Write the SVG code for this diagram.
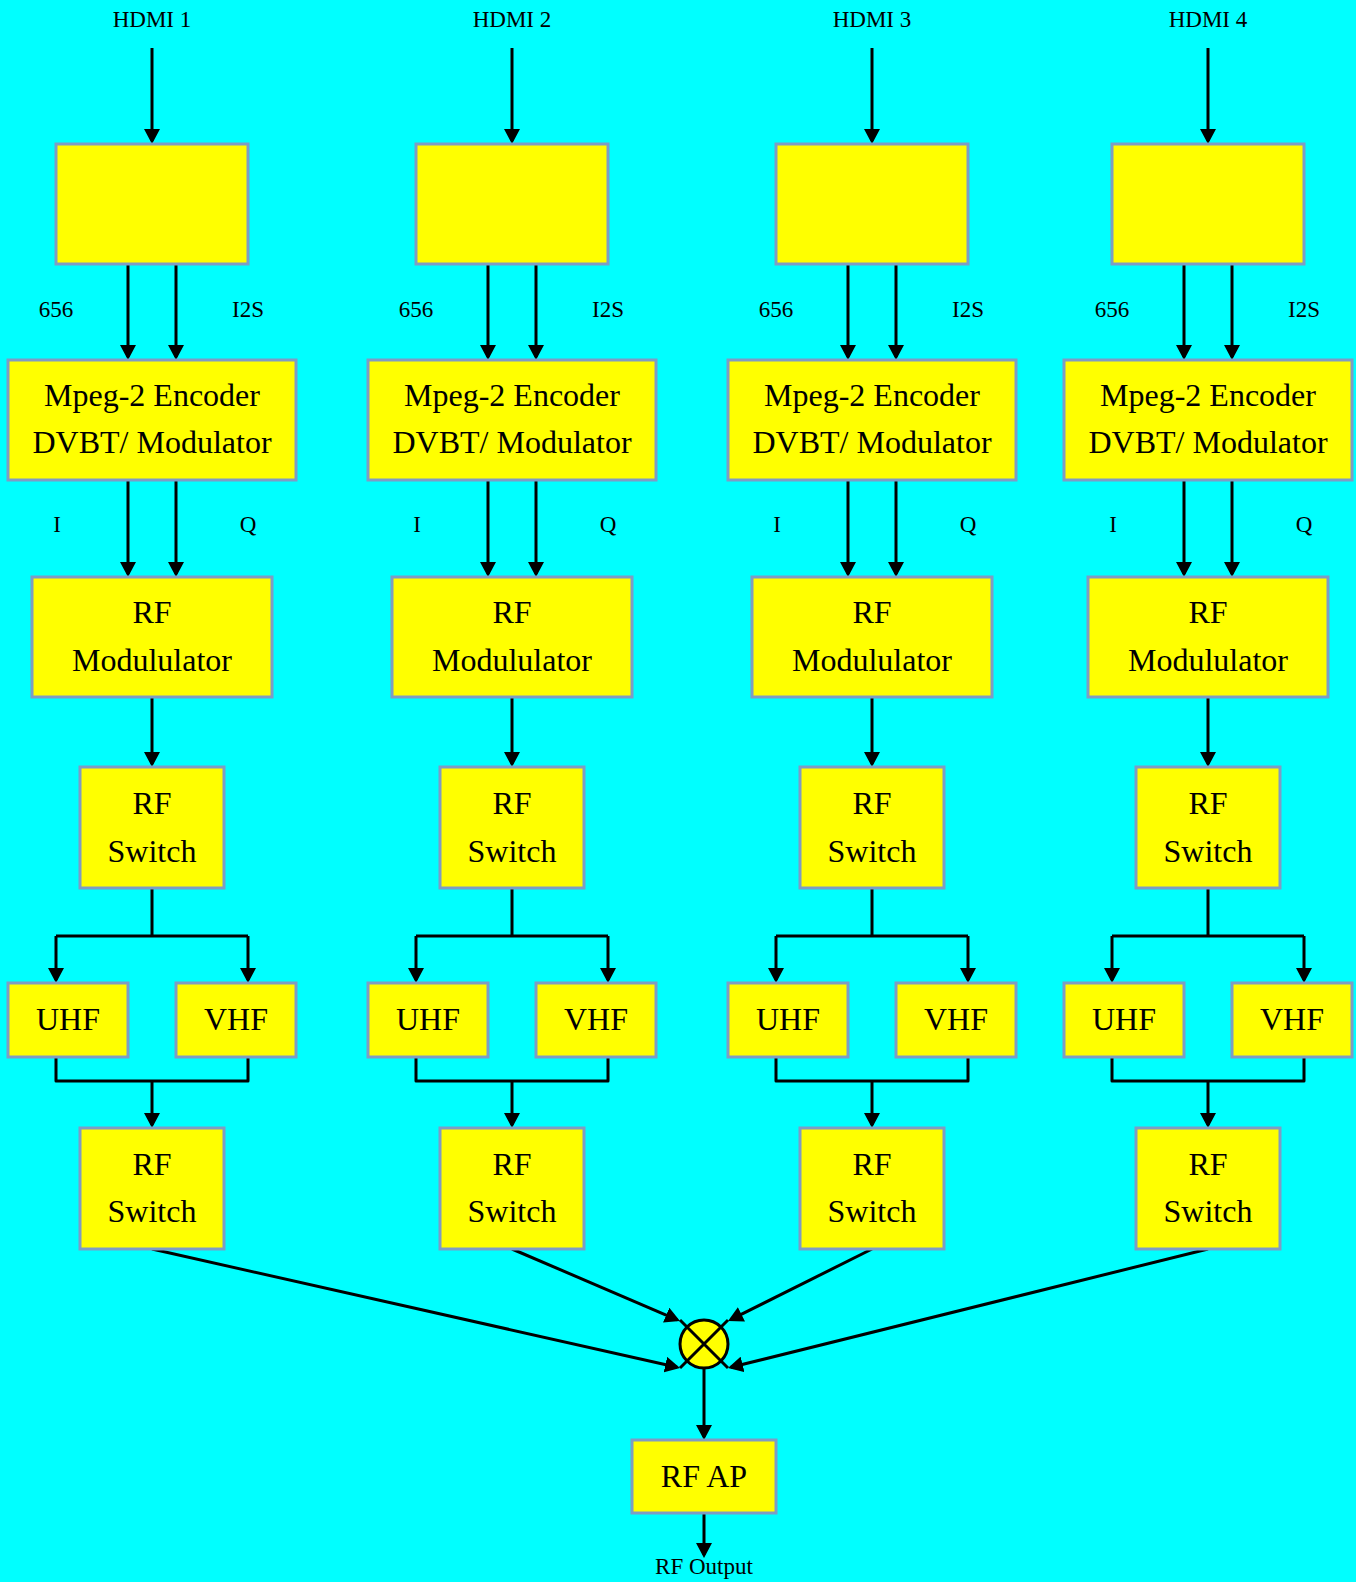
<svg xmlns="http://www.w3.org/2000/svg" width="1356" height="1582" viewBox="0 0 1356 1582">
<style>
.box{fill:#ffff00;stroke:#7f9cc4;stroke-width:3}
.big{font-family:"Liberation Serif","Times New Roman",serif;font-size:32px;fill:#000;text-anchor:middle}
.sm{font-family:"Liberation Serif","Times New Roman",serif;font-size:23px;fill:#000;text-anchor:middle}
.c{fill:none;stroke:#000;stroke-width:3;stroke-linejoin:round}
.a{marker-end:url(#ah)}
</style>
<defs>
<marker id="ah" markerUnits="userSpaceOnUse" markerWidth="16" markerHeight="16" refX="12" refY="8" orient="auto" viewBox="0 0 16 16">
<path d="M0,0 L15,8 L0,16 Z" fill="#000"/>
</marker>
</defs>
<rect width="1356" height="1582" fill="#00ffff"/>

<g id="labels">
<text class="sm" x="152" y="27">HDMI 1</text>
<text class="sm" x="512" y="27">HDMI 2</text>
<text class="sm" x="872" y="27">HDMI 3</text>
<text class="sm" x="1208" y="27">HDMI 4</text>
<text class="sm" x="56" y="317">656</text><text class="sm" x="248" y="317">I2S</text>
<text class="sm" x="416" y="317">656</text><text class="sm" x="608" y="317">I2S</text>
<text class="sm" x="776" y="317">656</text><text class="sm" x="968" y="317">I2S</text>
<text class="sm" x="1112" y="317">656</text><text class="sm" x="1304" y="317">I2S</text>
<text class="sm" x="57" y="532">I</text><text class="sm" x="248" y="532">Q</text>
<text class="sm" x="417" y="532">I</text><text class="sm" x="608" y="532">Q</text>
<text class="sm" x="777" y="532">I</text><text class="sm" x="968" y="532">Q</text>
<text class="sm" x="1113" y="532">I</text><text class="sm" x="1304" y="532">Q</text>
<text class="sm" x="704" y="1574">RF Output</text>
</g>

<g id="connectors">
<!-- column 1 -->
<path class="c a" d="M152,48 V141"/>
<path class="c a" d="M128,264 V357"/>
<path class="c a" d="M176,264 V357"/>
<path class="c a" d="M128,480 V574"/>
<path class="c a" d="M176,480 V574"/>
<path class="c a" d="M152,697 V764"/>
<path class="c" d="M152,888 V936 H56 M152,936 H248"/>
<path class="c a" d="M56,936 V980"/>
<path class="c a" d="M248,936 V980"/>
<path class="c" d="M56,1057 V1081 H248 V1057"/>
<path class="c a" d="M152,1081 V1125"/>
<!-- column 2 -->
<path class="c a" d="M512,48 V141"/>
<path class="c a" d="M488,264 V357"/>
<path class="c a" d="M536,264 V357"/>
<path class="c a" d="M488,480 V574"/>
<path class="c a" d="M536,480 V574"/>
<path class="c a" d="M512,697 V764"/>
<path class="c" d="M512,888 V936 H416 M512,936 H608"/>
<path class="c a" d="M416,936 V980"/>
<path class="c a" d="M608,936 V980"/>
<path class="c" d="M416,1057 V1081 H608 V1057"/>
<path class="c a" d="M512,1081 V1125"/>
<!-- column 3 -->
<path class="c a" d="M872,48 V141"/>
<path class="c a" d="M848,264 V357"/>
<path class="c a" d="M896,264 V357"/>
<path class="c a" d="M848,480 V574"/>
<path class="c a" d="M896,480 V574"/>
<path class="c a" d="M872,697 V764"/>
<path class="c" d="M872,888 V936 H776 M872,936 H968"/>
<path class="c a" d="M776,936 V980"/>
<path class="c a" d="M968,936 V980"/>
<path class="c" d="M776,1057 V1081 H968 V1057"/>
<path class="c a" d="M872,1081 V1125"/>
<!-- column 4 -->
<path class="c a" d="M1208,48 V141"/>
<path class="c a" d="M1184,264 V357"/>
<path class="c a" d="M1232,264 V357"/>
<path class="c a" d="M1184,480 V574"/>
<path class="c a" d="M1232,480 V574"/>
<path class="c a" d="M1208,697 V764"/>
<path class="c" d="M1208,888 V936 H1112 M1208,936 H1304"/>
<path class="c a" d="M1112,936 V980"/>
<path class="c a" d="M1304,936 V980"/>
<path class="c" d="M1112,1057 V1081 H1304 V1057"/>
<path class="c a" d="M1208,1081 V1125"/>
<!-- to combiner -->
<path class="c a" d="M152,1249 L677.1,1367.3"/>
<path class="c a" d="M512,1249 L677.2,1319.8"/>
<path class="c a" d="M872,1249 L730.7,1319.7"/>
<path class="c a" d="M1208,1249 L730.9,1367.3"/>
<path class="c a" d="M704,1368 V1437"/>
<path class="c a" d="M704,1513 V1555"/>
</g>

<g id="col1">
<g id="src1"><rect class="box" x="56" y="144" width="192" height="120"/></g>
<g id="enc1"><rect class="box" x="8" y="360" width="288" height="120"/><text class="big" x="152" y="406">Mpeg-2 Encoder</text><text class="big" x="152" y="453">DVBT/ Modulator</text></g>
<g id="rfmod1"><rect class="box" x="32" y="577" width="240" height="120"/><text class="big" x="152" y="623">RF</text><text class="big" x="152" y="671">Modululator</text></g>
<g id="sw1a"><rect class="box" x="80" y="767" width="144" height="121"/><text class="big" x="152" y="814">RF</text><text class="big" x="152" y="862">Switch</text></g>
<g id="uhf1"><rect class="box" x="8" y="983" width="120" height="74"/><text class="big" x="68" y="1030">UHF</text></g>
<g id="vhf1"><rect class="box" x="176" y="983" width="120" height="74"/><text class="big" x="236" y="1030">VHF</text></g>
<g id="sw1b"><rect class="box" x="80" y="1128" width="144" height="121"/><text class="big" x="152" y="1175">RF</text><text class="big" x="152" y="1222">Switch</text></g>
</g>

<g id="col2">
<g id="src2"><rect class="box" x="416" y="144" width="192" height="120"/></g>
<g id="enc2"><rect class="box" x="368" y="360" width="288" height="120"/><text class="big" x="512" y="406">Mpeg-2 Encoder</text><text class="big" x="512" y="453">DVBT/ Modulator</text></g>
<g id="rfmod2"><rect class="box" x="392" y="577" width="240" height="120"/><text class="big" x="512" y="623">RF</text><text class="big" x="512" y="671">Modululator</text></g>
<g id="sw2a"><rect class="box" x="440" y="767" width="144" height="121"/><text class="big" x="512" y="814">RF</text><text class="big" x="512" y="862">Switch</text></g>
<g id="uhf2"><rect class="box" x="368" y="983" width="120" height="74"/><text class="big" x="428" y="1030">UHF</text></g>
<g id="vhf2"><rect class="box" x="536" y="983" width="120" height="74"/><text class="big" x="596" y="1030">VHF</text></g>
<g id="sw2b"><rect class="box" x="440" y="1128" width="144" height="121"/><text class="big" x="512" y="1175">RF</text><text class="big" x="512" y="1222">Switch</text></g>
</g>

<g id="col3">
<g id="src3"><rect class="box" x="776" y="144" width="192" height="120"/></g>
<g id="enc3"><rect class="box" x="728" y="360" width="288" height="120"/><text class="big" x="872" y="406">Mpeg-2 Encoder</text><text class="big" x="872" y="453">DVBT/ Modulator</text></g>
<g id="rfmod3"><rect class="box" x="752" y="577" width="240" height="120"/><text class="big" x="872" y="623">RF</text><text class="big" x="872" y="671">Modululator</text></g>
<g id="sw3a"><rect class="box" x="800" y="767" width="144" height="121"/><text class="big" x="872" y="814">RF</text><text class="big" x="872" y="862">Switch</text></g>
<g id="uhf3"><rect class="box" x="728" y="983" width="120" height="74"/><text class="big" x="788" y="1030">UHF</text></g>
<g id="vhf3"><rect class="box" x="896" y="983" width="120" height="74"/><text class="big" x="956" y="1030">VHF</text></g>
<g id="sw3b"><rect class="box" x="800" y="1128" width="144" height="121"/><text class="big" x="872" y="1175">RF</text><text class="big" x="872" y="1222">Switch</text></g>
</g>

<g id="col4">
<g id="src4"><rect class="box" x="1112" y="144" width="192" height="120"/></g>
<g id="enc4"><rect class="box" x="1064" y="360" width="288" height="120"/><text class="big" x="1208" y="406">Mpeg-2 Encoder</text><text class="big" x="1208" y="453">DVBT/ Modulator</text></g>
<g id="rfmod4"><rect class="box" x="1088" y="577" width="240" height="120"/><text class="big" x="1208" y="623">RF</text><text class="big" x="1208" y="671">Modululator</text></g>
<g id="sw4a"><rect class="box" x="1136" y="767" width="144" height="121"/><text class="big" x="1208" y="814">RF</text><text class="big" x="1208" y="862">Switch</text></g>
<g id="uhf4"><rect class="box" x="1064" y="983" width="120" height="74"/><text class="big" x="1124" y="1030">UHF</text></g>
<g id="vhf4"><rect class="box" x="1232" y="983" width="120" height="74"/><text class="big" x="1292" y="1030">VHF</text></g>
<g id="sw4b"><rect class="box" x="1136" y="1128" width="144" height="121"/><text class="big" x="1208" y="1175">RF</text><text class="big" x="1208" y="1222">Switch</text></g>
</g>

<g id="combiner">
<circle cx="704" cy="1344" r="24" fill="#ffff00" stroke="#000" stroke-width="3"/>
<path d="M680,1320 L728,1368 M728,1320 L680,1368" stroke="#000" stroke-width="3" fill="none"/>
</g>
<g id="rfap"><rect class="box" x="632" y="1440" width="144" height="73"/><text class="big" x="704" y="1487">RF AP</text></g>
</svg>
